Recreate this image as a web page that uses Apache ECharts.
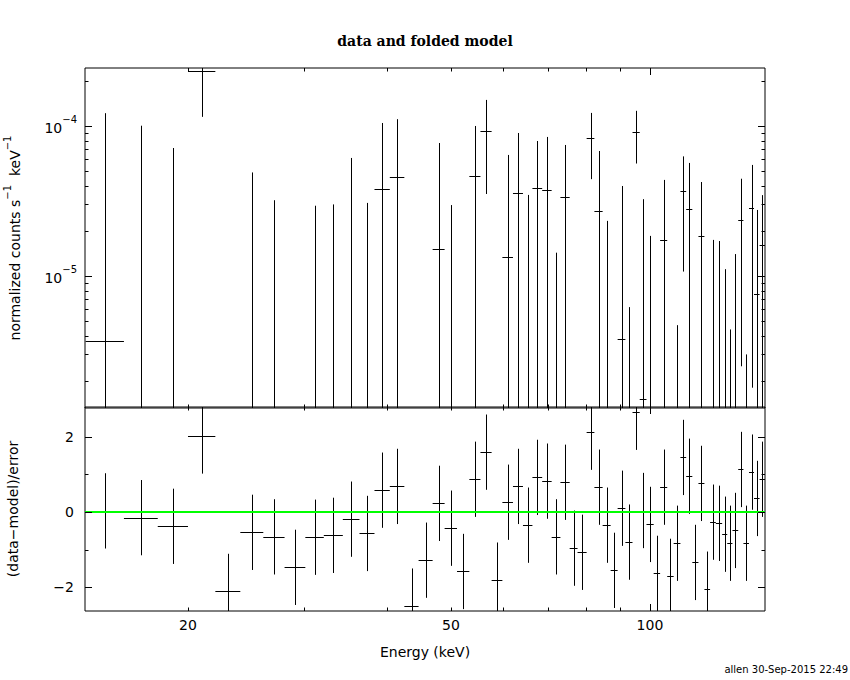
<!DOCTYPE html>
<html>
<head>
<meta charset="utf-8">
<script src="https://cdn.jsdelivr.net/npm/echarts@6/dist/echarts.min.js"></script>
<style>
html, body { margin: 0; padding: 0; background: #ffffff; }
#chart { width: 850px; height: 680px; }
</style>
</head>
<body>
<div id="chart"></div>
<script>
// ---------------- data ----------------
// energy bin edges, keV (59 bins)
const binEdges = [14.0, 16.0, 18.0, 20.0, 22.0, 24.0, 26.0, 28.0, 30.1, 32.1,
  34.3, 36.35, 38.3, 40.4, 42.5, 44.66, 46.9, 48.9, 51.06, 53.3,
  55.4, 57.6, 59.8, 62.05, 64.25, 66.4, 68.7, 71.0, 73.2, 75.6,
  77.7, 80.2, 82.4, 84.8, 87.2, 89.35, 91.8, 94.1, 96.5, 98.8,
  101.3, 103.6, 106.2, 108.6, 111.2, 113.45, 115.9, 118.4, 120.9, 123.3,
  125.8, 128.6, 130.9, 133.3, 136.0, 138.5, 141.2, 143.7, 146.5, 149.3];

// normalized counts s^-1 keV^-1
const rate = [3.7e-6, -1.76e-5, -4.37e-5, 2.33e-4, -2.32e-4, -5.7e-5, -6.2e-5, -1.32e-4, -5.96e-5, -4.9e-5,
  -1.44e-5, -4.07e-5, 3.79e-5, 4.55e-5, -1.63e-4, -8.1e-5, 1.51e-5, -2.24e-5, -8.7e-5, 4.62e-5,
  9.22e-5, -9.4e-5, 1.33e-5, 3.56e-5, -1.87e-5, 3.85e-5, 3.73e-5, -2.77e-5, 3.36e-5, -4.2e-5,
  -4.3e-5, 8.32e-5, 2.7e-5, -1.25e-5, -5.6e-5, 3.8e-6, -2.48e-5, 9.12e-5, 1.51e-6, -9.1e-6,
  -4.7e-5, 1.73e-5, -4.8e-5, -2.28e-5, 3.67e-5, 2.78e-5, -3.6e-5, 1.84e-5, -5.1e-5, -6.4e-6,
  -7.3e-6, -1.6e-5, -2.13e-5, -1.35e-5, 2.35e-5, -1.48e-5, 2.84e-5, 7.55e-6, 1.61e-5];

// 1-sigma errors on the rate
const rateErr = [1.18e-4, 1.18e-4, 1.15e-4, 1.18e-4, 1.1e-4, 1.06e-4, 9.4e-5, 9.0e-5, 8.9e-5, 7.9e-5,
  7.56e-5, 7.14e-5, 6.68e-5, 6.55e-5, 6.5e-5, 6.3e-5, 6.19e-5, 5.21e-5, 5.5e-5, 5.38e-5,
  5.7e-5, 5.2e-5, 5.08e-5, 5.42e-5, 5.34e-5, 4.09e-5, 4.72e-5, 4.2e-5, 4.11e-5, 4.1e-5,
  4.0e-5, 3.9e-5, 4.11e-5, 3.58e-5, 3.6e-5, 3.6e-5, 3.1e-5, 3.5e-5, 3.1e-5, 2.76e-5,
  2.9e-5, 2.64e-5, 2.8e-5, 2.75e-5, 2.6e-5, 2.89e-5, 2.7e-5, 2.39e-5, 2.5e-5, 2.38e-5,
  2.44e-5, 2.71e-5, 2.57e-5, 2.75e-5, 2.1e-5, 1.78e-5, 2.66e-5, 2.0e-5, 1.85e-5];

// (data-model)/error
const residual = [0.03, -0.15, -0.38, 2.02, -2.11, -0.54, -0.66, -1.47, -0.67, -0.62,
  -0.19, -0.57, 0.58, 0.68, -2.5, -1.28, 0.23, -0.43, -1.58, 0.87,
  1.59, -1.81, 0.26, 0.68, -0.35, 0.92, 0.82, -0.66, 0.79, -0.96,
  -1.07, 2.12, 0.66, -0.35, -1.55, 0.1, -0.8, 2.65, 0.04, -0.33,
  -1.63, 0.66, -1.71, -0.83, 1.45, 0.95, -1.34, 0.76, -2.05, -0.27,
  -0.3, -0.59, -0.83, -0.49, 1.13, -0.83, 1.06, 0.36, 0.87];

// model residual level
const modelResidual = 0;

// axes
const energyMin = 13.97, energyMax = 149.3;
const rateMin = 1.318e-6, rateMax = 2.435e-4;
const resMin = -2.63, resMax = 2.79;

const energyTicks = [20, 30, 40, 50, 60, 70, 80, 90, 100];
const energyMajorTicks = [100];
const energyTickLabels = [20, 50, 100];
const rateTicks = [2e-6, 3e-6, 4e-6, 5e-6, 6e-6, 7e-6, 8e-6, 9e-6, 1e-5,
  2e-5, 3e-5, 4e-5, 5e-5, 6e-5, 7e-5, 8e-5, 9e-5, 1e-4, 2e-4];
const rateMajorTicks = [1e-5, 1e-4];
const rateTickLabels = [1e-5, 1e-4];
const residualTicks = [-2, -1, 0, 1, 2];
const residualMajorTicks = [-2, 0, 2];
const residualTickLabels = [-2, 0, 2];

const titleText = 'data and folded model';
const xName = 'Energy (keV)';
const footerText = 'allen 30-Sep-2015 22:49';

// ---------------- chart ----------------
const SANS = '"DejaVu Sans", "Liberation Sans", sans-serif';
const SERIF = '"DejaVu Serif", "Liberation Serif", serif';
const INK = '#000000';

function crisp(v) { return Math.round(v) + 0.5; }
function seg(x1, y1, x2, y2, color, w) {
  return { type: 'line', shape: { x1: x1, y1: y1, x2: x2, y2: y2 },
    style: { stroke: color || INK, lineWidth: w || 1 } };
}

const rateData = [];
const resData = [];
for (let i = 0; i < rate.length; i++) {
  const lo = binEdges[i], hi = binEdges[i + 1], c = (lo + hi) / 2;
  rateData.push([c, rate[i], lo, hi, rateErr[i]]);
  resData.push([c, residual[i], lo, hi]);
}

function tickSeries(gi, yRef, yTicks, yMajors) {
  const data = [];
  energyTicks.forEach(v => data.push([v, yRef, energyMajorTicks.indexOf(v) >= 0 ? 1 : 0, 0]));
  yTicks.forEach(v => data.push([energyMin, v, yMajors.indexOf(v) >= 0 ? 1 : 0, 1]));
  return {
    type: 'custom', xAxisIndex: gi, yAxisIndex: gi, silent: true, clip: false, z: 5,
    data: data,
    renderItem: function (params, api) {
      const cs = params.coordSys;
      const len = api.value(2) ? 7 : 3.5;
      const p = api.coord([api.value(0), api.value(1)]);
      if (api.value(3) === 0) {
        const x = crisp(p[0]);
        return { type: 'group', children: [
          seg(x, cs.y, x, cs.y + len),
          seg(x, cs.y + cs.height, x, cs.y + cs.height - len)] };
      }
      const y = crisp(p[1]);
      return { type: 'group', children: [
        seg(cs.x, y, cs.x + len, y),
        seg(cs.x + cs.width, y, cs.x + cs.width - len, y)] };
    }
  };
}

const option = {
  animation: false,
  backgroundColor: '#ffffff',
  title: {
    text: titleText, left: 'center', top: 29,
    textStyle: { fontFamily: SERIF, fontSize: 14, fontWeight: 'bold', color: INK }
  },
  graphic: [{
    type: 'text', right: 2, bottom: 6,
    style: { text: footerText, font: '10px ' + SANS, fill: INK }
  }],
  grid: [
    { left: 85, top: 68, width: 680, height: 340, show: true, borderColor: INK, borderWidth: 1,
      backgroundColor: 'transparent', containLabel: false, outerBoundsMode: 'none' },
    { left: 85, top: 407, width: 680, height: 204, show: true, borderColor: INK, borderWidth: 1,
      backgroundColor: 'transparent', containLabel: false, outerBoundsMode: 'none' }
  ],
  xAxis: [
    { type: 'log', logBase: 10, gridIndex: 0, min: energyMin, max: energyMax,
      axisLine: { show: false }, axisTick: { show: false }, axisLabel: { show: false }, splitLine: { show: false } },
    { type: 'log', logBase: 10, gridIndex: 1, min: energyMin, max: energyMax,
      axisLine: { show: false }, axisTick: { show: false }, axisLabel: { show: false }, splitLine: { show: false },
      name: xName, nameLocation: 'middle', nameGap: 34,
      nameTextStyle: { fontFamily: SANS, fontSize: 14, color: INK } }
  ],
  yAxis: [
    { type: 'log', logBase: 10, gridIndex: 0, min: rateMin, max: rateMax,
      axisLine: { show: false }, axisTick: { show: false }, axisLabel: { show: false }, splitLine: { show: false },
      name: '{t|normalized counts s}{s|−1}{t|  keV}{s|−1}', nameLocation: 'middle', nameGap: 63, nameRotate: 90,
      nameTextStyle: { color: INK, rich: {
        t: { fontFamily: SANS, fontSize: 14, lineHeight: 20, verticalAlign: 'bottom', color: INK },
        s: { fontFamily: SANS, fontSize: 10, lineHeight: 20, verticalAlign: 'top', color: INK } } } },
    { type: 'value', gridIndex: 1, min: resMin, max: resMax,
      axisLine: { show: false }, axisTick: { show: false }, axisLabel: { show: false }, splitLine: { show: false },
      name: '(data−model)/error', nameLocation: 'middle', nameGap: 65, nameRotate: 90,
      nameTextStyle: { fontFamily: SANS, fontSize: 14, color: INK } }
  ],
  series: [
    // data with error bars, top panel
    {
      type: 'custom', xAxisIndex: 0, yAxisIndex: 0, clip: true, silent: true, z: 3,
      encode: { x: 0, y: 1 },
      data: rateData,
      renderItem: function (params, api) {
        const cs = params.coordSys;
        const c = api.value(0), r = api.value(1), lo = api.value(2), hi = api.value(3), e = api.value(4);
        const up = r + e;
        if (!(up > rateMin)) return null;
        const down = r - e;
        const xc = crisp(api.coord([c, rateMin])[0]);
        const yUp = up >= rateMax ? cs.y - 3 : api.coord([c, up])[1];
        const yDown = down > rateMin ? api.coord([c, down])[1] : cs.y + cs.height + 3;
        const children = [seg(xc, yUp, xc, yDown)];
        if (r > rateMin && r < rateMax) {
          const y = crisp(api.coord([c, r])[1]);
          children.push(seg(api.coord([lo, r])[0], y, api.coord([hi, r])[0], y));
        }
        return { type: 'group', children: children };
      }
    },
    // residuals, bottom panel
    {
      type: 'custom', xAxisIndex: 1, yAxisIndex: 1, clip: true, silent: true, z: 3,
      encode: { x: 0, y: 1 },
      data: resData,
      renderItem: function (params, api) {
        const c = api.value(0), r = api.value(1), lo = api.value(2), hi = api.value(3);
        const p = api.coord([c, r]);
        const xc = crisp(p[0]), y = crisp(p[1]);
        return { type: 'group', children: [
          seg(xc, api.coord([c, r + 1])[1], xc, api.coord([c, r - 1])[1]),
          seg(api.coord([lo, r])[0], y, api.coord([hi, r])[0], y)] };
      }
    },
    // model line in residual panel
    {
      type: 'line', xAxisIndex: 1, yAxisIndex: 1, silent: true, z: 4,
      symbol: 'none', data: [[energyMin, modelResidual], [energyMax, modelResidual]],
      lineStyle: { color: '#00ff00', width: 2 }
    },
    tickSeries(0, rateMin, rateTicks, rateMajorTicks),
    tickSeries(1, 0, residualTicks, residualMajorTicks),
    // energy tick labels
    {
      type: 'custom', xAxisIndex: 1, yAxisIndex: 1, clip: false, silent: true,
      data: energyTickLabels.map(v => [v, resMin]),
      renderItem: function (params, api) {
        const cs = params.coordSys;
        const p = api.coord([api.value(0), api.value(1)]);
        return { type: 'text', x: p[0], y: cs.y + cs.height + 14,
          style: { text: String(api.value(0)), font: '14px ' + SANS, fill: INK, align: 'center', verticalAlign: 'middle' } };
      }
    },
    // rate tick labels
    {
      type: 'custom', xAxisIndex: 0, yAxisIndex: 0, clip: false, silent: true,
      data: rateTickLabels.map(v => [energyMin, v]),
      renderItem: function (params, api) {
        const cs = params.coordSys;
        const v = api.value(1);
        const p = api.coord([api.value(0), v]);
        const ex = Math.round(Math.log10(v));
        return { type: 'text', x: cs.x - 8, y: p[1] - 1,
          style: { text: '{b|10}{s|' + String(ex).replace('-', '−') + '}', fill: INK, align: 'right', verticalAlign: 'middle',
            rich: {
              b: { fontFamily: SANS, fontSize: 14, lineHeight: 20, verticalAlign: 'bottom', fill: INK },
              s: { fontFamily: SANS, fontSize: 10, lineHeight: 20, verticalAlign: 'top', fill: INK } } } };
      }
    },
    // residual tick labels
    {
      type: 'custom', xAxisIndex: 1, yAxisIndex: 1, clip: false, silent: true,
      data: residualTickLabels.map(v => [energyMin, v]),
      renderItem: function (params, api) {
        const cs = params.coordSys;
        const v = api.value(1);
        const p = api.coord([api.value(0), v]);
        return { type: 'text', x: cs.x - 11, y: p[1],
          style: { text: String(v).replace('-', '−'), font: '14px ' + SANS, fill: INK, align: 'right', verticalAlign: 'middle' } };
      }
    }
  ]
};

const chart = echarts.init(document.getElementById('chart'), null, { renderer: 'svg' });
chart.setOption(option);
</script>
</body>
</html>
